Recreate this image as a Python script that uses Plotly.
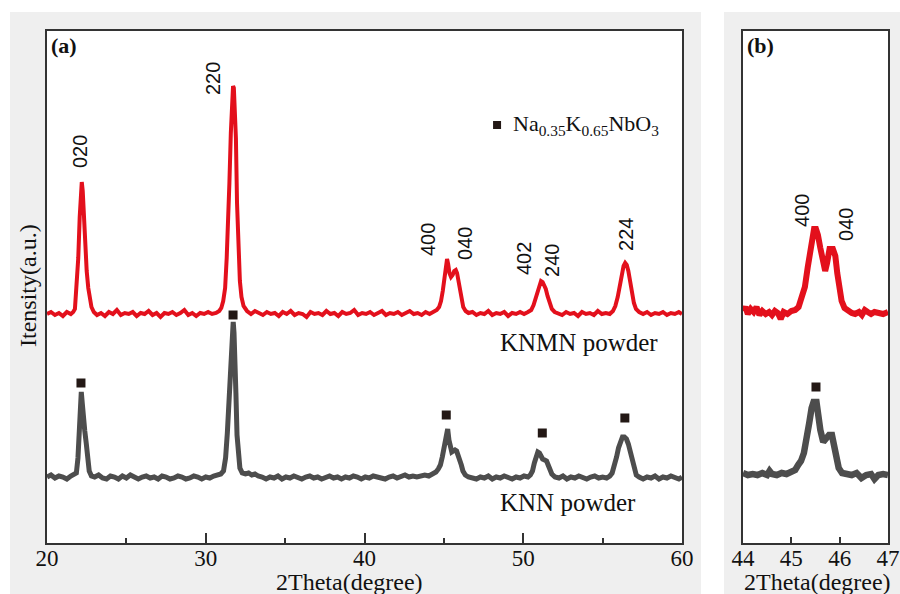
import plotly.graph_objects as go

# ---------------- data (intensity in a.u.) ----------------
knmn_a = [(20.0,229),(20.25,231),(20.5,228),(20.75,230),(21.0,227),(21.25,231),(21.5,229),(21.65,231),(21.76,234),(21.87,255),(21.97,285),(22.06,326),(22.14,356),(22.19,361),(22.25,352),(22.31,328),(22.4,296),(22.5,272),(22.6,255),(22.7,244),(22.8,236),(22.95,231),(23.15,228),(23.4,230),(23.65,227),(23.9,231),(24.15,229),(24.4,233),(24.65,228),(24.9,230),(25.15,229),(25.4,231),(25.65,227),(25.9,230),(26.15,229),(26.4,232),(26.65,228),(26.9,230),(27.15,226),(27.4,230),(27.65,229),(27.9,231),(28.15,228),(28.4,230),(28.65,233),(28.9,228),(29.15,230),(29.4,227),(29.65,230),(29.9,229),(30.15,231),(30.4,229),(30.65,230),(30.85,232),(30.98,235),(31.1,242),(31.22,255),(31.32,285),(31.4,315),(31.49,360),(31.58,410),(31.66,440),(31.72,457),(31.77,455),(31.83,435),(31.9,405),(31.97,340),(32.05,295),(32.15,262),(32.25,246),(32.38,237),(32.6,232),(32.85,229),(33.1,232),(33.35,230),(33.6,228),(33.85,231),(34.1,229),(34.35,230),(34.6,227),(34.85,231),(35.1,229),(35.35,232),(35.6,228),(35.85,230),(36.1,229),(36.35,226),(36.6,231),(36.85,229),(37.1,230),(37.35,228),(37.6,232),(37.85,229),(38.1,230),(38.35,227),(38.6,231),(38.85,229),(39.1,230),(39.35,233),(39.6,228),(39.85,230),(40.1,229),(40.35,231),(40.6,228),(40.85,230),(41.1,232),(41.35,228),(41.6,230),(41.85,229),(42.1,231),(42.35,228),(42.6,230),(42.85,232),(43.1,229),(43.35,230),(43.6,228),(43.85,231),(44.1,229),(44.35,231),(44.55,233),(44.7,236),(44.82,242),(44.93,252),(45.03,265),(45.12,277),(45.2,284),(45.27,279),(45.35,270),(45.45,266),(45.55,268),(45.65,272),(45.75,273),(45.83,270),(45.92,262),(46.0,252),(46.1,243),(46.22,236),(46.37,232),(46.55,230),(46.8,231),(47.05,228),(47.3,230),(47.55,229),(47.8,232),(48.05,228),(48.3,230),(48.55,229),(48.8,231),(49.05,227),(49.3,230),(49.55,229),(49.8,231),(50.05,229),(50.3,231),(50.5,233),(50.65,238),(50.8,246),(50.93,254),(51.03,260),(51.12,262),(51.22,261),(51.32,258),(51.42,254),(51.53,247),(51.65,240),(51.8,234),(51.98,231),(52.2,230),(52.45,228),(52.7,231),(52.95,229),(53.2,230),(53.45,227),(53.7,231),(53.95,229),(54.2,230),(54.45,228),(54.7,232),(54.95,229),(55.2,230),(55.45,229),(55.65,232),(55.8,237),(55.95,246),(56.08,258),(56.2,270),(56.32,277),(56.42,280),(56.52,278),(56.62,272),(56.73,262),(56.85,250),(56.97,240),(57.1,234),(57.3,231),(57.55,229),(57.8,231),(58.05,228),(58.3,230),(58.55,229),(58.8,231),(59.05,228),(59.3,230),(59.55,229),(59.8,231),(60.0,229)]

knn_a = [(20.0,66),(20.25,68),(20.5,65),(20.75,67),(21.0,66),(21.25,64),(21.5,67),(21.7,68),(21.85,70),(21.95,85),(22.04,118),(22.11,146),(22.16,151),(22.22,140),(22.29,120),(22.38,112),(22.47,100),(22.56,84),(22.66,72),(22.8,67),(23.0,66),(23.25,68),(23.5,65),(23.75,64),(24.0,67),(24.25,66),(24.5,64),(24.75,67),(25.0,65),(25.25,68),(25.5,66),(25.75,64),(26.0,66),(26.25,67),(26.5,65),(26.75,66),(27.0,64),(27.25,67),(27.5,66),(27.75,64),(28.0,65),(28.25,67),(28.5,66),(28.75,64),(29.0,65),(29.25,67),(29.5,66),(29.75,64),(30.0,66),(30.25,65),(30.5,67),(30.75,68),(30.95,69),(31.12,72),(31.25,85),(31.36,110),(31.46,140),(31.55,165),(31.63,196),(31.69,216),(31.73,221),(31.78,210),(31.84,190),(31.9,150),(31.97,108),(32.05,88),(32.15,75),(32.3,70),(32.5,69),(32.7,70),(32.9,68),(33.1,69),(33.3,67),(33.55,66),(33.8,64),(34.05,66),(34.3,65),(34.55,67),(34.8,64),(35.05,66),(35.3,65),(35.55,67),(35.8,66),(36.05,64),(36.3,66),(36.55,67),(36.8,65),(37.05,66),(37.3,64),(37.55,66),(37.8,67),(38.05,65),(38.3,66),(38.55,64),(38.8,66),(39.05,65),(39.3,67),(39.55,66),(39.8,64),(40.05,66),(40.3,65),(40.55,67),(40.8,66),(41.05,65),(41.3,64),(41.55,66),(41.8,67),(42.05,65),(42.3,66),(42.55,68),(42.8,66),(43.05,67),(43.3,66),(43.55,67),(43.8,68),(44.05,67),(44.3,69),(44.5,71),(44.65,74),(44.78,78),(44.9,86),(45.0,95),(45.08,106),(45.15,113),(45.24,114),(45.32,103),(45.4,95),(45.5,91),(45.6,92),(45.7,93),(45.8,92),(45.9,88),(46.0,84),(46.1,78),(46.2,72),(46.35,68),(46.55,66),(46.8,65),(47.05,64),(47.3,66),(47.55,65),(47.8,67),(48.05,64),(48.3,66),(48.55,65),(48.8,67),(49.05,66),(49.3,64),(49.55,66),(49.8,65),(50.05,67),(50.3,66),(50.45,68),(50.58,72),(50.7,80),(50.82,88),(50.92,91),(51.02,90),(51.12,87),(51.22,84),(51.35,83),(51.47,82),(51.57,78),(51.67,73),(51.8,69),(52.0,66),(52.25,65),(52.5,67),(52.75,64),(53.0,66),(53.25,65),(53.5,67),(53.75,66),(54.0,64),(54.25,66),(54.5,67),(54.75,65),(55.0,66),(55.25,65),(55.45,67),(55.6,70),(55.75,77),(55.88,86),(56.0,95),(56.12,102),(56.25,106),(56.37,106),(56.5,104),(56.62,99),(56.75,91),(56.87,81),(56.98,73),(57.12,68),(57.3,66),(57.55,64),(57.8,66),(58.05,65),(58.3,67),(58.55,64),(58.8,66),(59.05,65),(59.3,67),(59.55,66),(59.8,64),(60.0,66)]

knmn_b = [(44.0,232),(44.05,236),(44.1,229),(44.16,234),(44.22,231),(44.28,236),(44.34,228),(44.4,232),(44.47,229),(44.54,231),(44.6,228),(44.66,232),(44.72,230),(44.78,224),(44.84,231),(44.92,229),(45.0,232),(45.08,233),(45.15,236),(45.22,245),(45.28,256),(45.34,276),(45.39,290),(45.43,302),(45.47,314),(45.51,314),(45.55,308),(45.6,295),(45.65,286),(45.7,272),(45.74,280),(45.79,294),(45.86,294),(45.91,287),(45.95,270),(45.99,253),(46.04,242),(46.1,235),(46.17,232),(46.25,230),(46.32,229),(46.4,231),(46.46,228),(46.52,233),(46.58,231),(46.65,229),(46.72,231),(46.8,230),(46.9,229),(47.0,231)]

knn_b = [(44.0,70),(44.1,68),(44.2,69),(44.3,68),(44.4,70),(44.5,68),(44.55,72),(44.6,69),(44.7,68),(44.8,70),(44.9,69),(45.0,71),(45.08,73),(45.14,78),(45.2,82),(45.26,90),(45.32,103),(45.37,120),(45.42,135),(45.46,141),(45.52,141),(45.56,125),(45.6,113),(45.66,101),(45.72,104),(45.78,108),(45.84,108),(45.89,98),(45.93,84),(45.98,75),(46.05,70),(46.15,69),(46.25,68),(46.35,70),(46.45,65),(46.55,68),(46.65,69),(46.72,64),(46.8,68),(46.9,69),(47.0,68)]

# phase markers (Na0.35K0.65NbO3) on KNN pattern
marker_a_x = [22.14, 31.72, 45.15, 51.2, 56.4]
marker_a_y = [160, 228, 128, 110, 125]
marker_b_x = [45.51]
marker_b_y = [156]

# peak labels (hkl)
hkl_a_text = ["020", "220", "400", "040", "402", "240", "224"]
hkl_a_x = [22.08, 30.46, 44.0, 46.33, 50.05, 51.81, 56.47]
hkl_a_y = [391, 464, 303, 300, 284, 283, 309]
hkl_b_text = ["400", "040"]
hkl_b_x = [45.22, 46.13]
hkl_b_y = [333, 319]

legend_x = [48.35]
legend_y = [418]

# ---------------- figure ----------------
W, H = 900, 594
RED = "#e3101c"
GRAY = "#4d4d4d"
SQ = "#231815"
SERIF = "Liberation Serif"
SANS = "Liberation Sans"

def px(x):
    return x / W

def py(y):
    return 1 - y / H

fig = go.Figure()

def unzip(pairs):
    return [p[0] for p in pairs], [p[1] for p in pairs]

x, y = unzip(knmn_a)
fig.add_trace(go.Scatter(x=x, y=y, mode="lines", line=dict(color=RED, width=4), xaxis="x", yaxis="y"))
x, y = unzip(knn_a)
fig.add_trace(go.Scatter(x=x, y=y, mode="lines", line=dict(color=GRAY, width=5), xaxis="x", yaxis="y"))
x, y = unzip(knmn_b)
fig.add_trace(go.Scatter(x=x, y=y, mode="lines", line=dict(color=RED, width=6), xaxis="x2", yaxis="y2"))
x, y = unzip(knn_b)
fig.add_trace(go.Scatter(x=x, y=y, mode="lines", line=dict(color=GRAY, width=6.5), xaxis="x2", yaxis="y2"))

fig.add_trace(go.Scatter(x=marker_a_x, y=marker_a_y, mode="markers",
                         marker=dict(symbol="square", size=9, color=SQ), xaxis="x", yaxis="y"))
fig.add_trace(go.Scatter(x=marker_b_x, y=marker_b_y, mode="markers",
                         marker=dict(symbol="square", size=9, color=SQ), xaxis="x2", yaxis="y2"))
fig.add_trace(go.Scatter(x=legend_x, y=legend_y, mode="markers",
                         marker=dict(symbol="square", size=8, color=SQ), xaxis="x", yaxis="y"))

annotations = []
for t, xx, yy in zip(hkl_a_text, hkl_a_x, hkl_a_y):
    annotations.append(dict(x=xx, y=yy, xref="x", yref="y", text=t, textangle=-90, showarrow=False,
                            font=dict(family=SANS, size=20, color="#111")))
for t, xx, yy in zip(hkl_b_text, hkl_b_x, hkl_b_y):
    annotations.append(dict(x=xx, y=yy, xref="x2", yref="y2", text=t, textangle=-90, showarrow=False,
                            font=dict(family=SANS, size=20, color="#111")))

annotations += [
    dict(x=px(49), y=py(31), xref="paper", yref="paper", xanchor="left", yanchor="top",
         text="<b>(a)</b>", showarrow=False, font=dict(family=SERIF, size=22, color="#111")),
    dict(x=px(745), y=py(31), xref="paper", yref="paper", xanchor="left", yanchor="top",
         text="<b>(b)</b>", showarrow=False, font=dict(family=SERIF, size=22, color="#111")),
    dict(x=px(511), y=py(125), xref="paper", yref="paper", xanchor="left", yanchor="middle",
         text="Na<sub>0.35</sub>K<sub>0.65</sub>NbO<sub>3</sub>", showarrow=False,
         font=dict(family=SERIF, size=22, color="#111")),
    dict(x=px(498), y=py(342), xref="paper", yref="paper", xanchor="left", yanchor="middle",
         text="KNMN powder", showarrow=False, font=dict(family=SERIF, size=25, color="#111")),
    dict(x=px(498), y=py(502), xref="paper", yref="paper", xanchor="left", yanchor="middle",
         text="KNN powder", showarrow=False, font=dict(family=SERIF, size=25, color="#111")),
    dict(x=px(349), y=py(582), xref="paper", yref="paper", xanchor="center", yanchor="middle",
         text="2Theta(degree)", showarrow=False, font=dict(family=SERIF, size=24, color="#111")),
    dict(x=px(817), y=py(582), xref="paper", yref="paper", xanchor="center", yanchor="middle",
         text="2Theta(degree)", showarrow=False, font=dict(family=SERIF, size=24, color="#111")),
    dict(x=px(28), y=py(286), xref="paper", yref="paper", xanchor="center", yanchor="middle",
         text="Itensity(a.u.)", textangle=-90, showarrow=False, font=dict(family=SERIF, size=24, color="#111")),
]

shapes = [
    dict(type="rect", xref="paper", yref="paper", x0=px(10), x1=px(701), y0=-0.01, y1=py(12),
         fillcolor="#efefef", line=dict(width=0), layer="below"),
    dict(type="rect", xref="paper", yref="paper", x0=px(724), x1=1.01, y0=-0.01, y1=py(12),
         fillcolor="#efefef", line=dict(width=0), layer="below"),
    dict(type="rect", xref="x domain", yref="y domain", x0=0, x1=1, y0=0, y1=1,
         fillcolor="white", line=dict(width=0), layer="below"),
    dict(type="rect", xref="x2 domain", yref="y2 domain", x0=0, x1=1, y0=0, y1=1,
         fillcolor="white", line=dict(width=0), layer="below"),
]

axis_common = dict(showline=True, linecolor="#333333", linewidth=1.5, mirror=True,
                   showgrid=False, zeroline=False, automargin=False)
tickfont = dict(family=SERIF, size=23, color="#111")

fig.update_layout(
    template="none",
    width=W, height=H,
    margin=dict(l=0, r=0, t=0, b=0, pad=0, autoexpand=False),
    paper_bgcolor="white", plot_bgcolor="white",
    showlegend=False,
    xaxis=dict(domain=[px(47), px(682)], range=[20, 60], tick0=20, dtick=10,
               ticks="inside", ticklen=10, tickwidth=1.5, tickcolor="#333", ticklabelstandoff=-6,
               minor=dict(ticks="inside", ticklen=5, dtick=5, tick0=20, tickwidth=1.5, tickcolor="#333"),
               tickfont=tickfont, anchor="y", **axis_common),
    yaxis=dict(domain=[py(543), py(31)], range=[0, 512], showticklabels=False, ticks="",
               anchor="x", **axis_common),
    xaxis2=dict(domain=[px(743), px(888)], range=[44, 47], tick0=44, dtick=1,
                ticks="inside", ticklen=6, tickwidth=1.5, tickcolor="#333", ticklabelstandoff=-6,
                tickfont=tickfont, anchor="y2", **axis_common),
    yaxis2=dict(domain=[py(543), py(31)], range=[0, 512], showticklabels=False, ticks="",
                anchor="x2", **axis_common),
    annotations=annotations,
    shapes=shapes,
)

fig.write_html("out.html", config={"displayModeBar": False},
               post_script="document.body.style.margin='0px';document.body.style.overflow='hidden';")
